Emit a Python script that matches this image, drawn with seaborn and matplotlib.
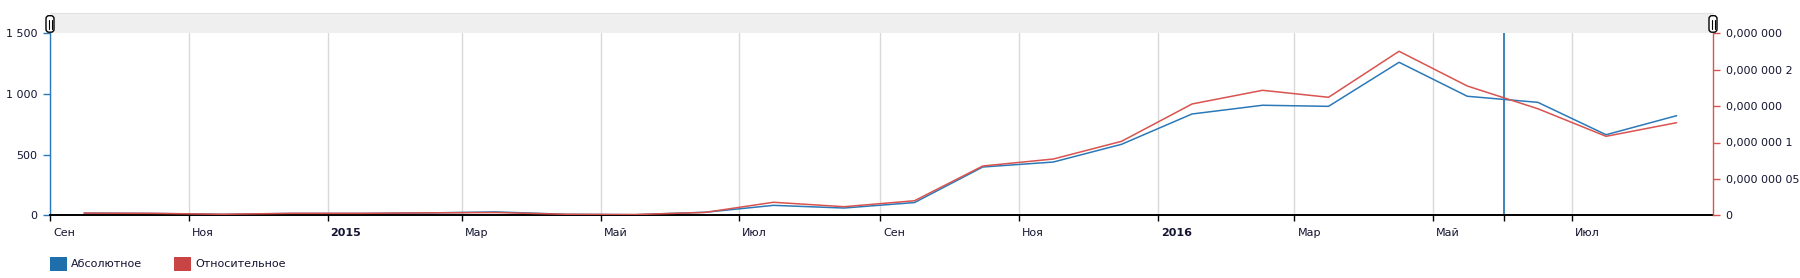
import matplotlib
matplotlib.use("Agg")
import matplotlib.pyplot as plt
import matplotlib.dates as mdates
import matplotlib.transforms as mtransforms
from matplotlib.patches import Rectangle, FancyBboxPatch, Patch
from matplotlib.lines import Line2D
import seaborn as sns
import pandas as pd

# ---- data ----
months = ["2014-09", "2014-10", "2014-11", "2014-12", "2015-01", "2015-02",
          "2015-03", "2015-04", "2015-05", "2015-06", "2015-07", "2015-08",
          "2015-09", "2015-10", "2015-11", "2015-12", "2016-01", "2016-02",
          "2016-03", "2016-04", "2016-05", "2016-06", "2016-07", "2016-08"]
absolute = [18, 15, 8, 15, 15, 20, 28, 8, 5, 25, 82, 60,
            105, 398, 439, 585, 835, 907, 898, 1261, 981, 931, 664, 821]
relative = [3.0e-9, 2.7e-9, 1.4e-9, 2.7e-9, 2.7e-9, 3.4e-9, 3.8e-9, 1.4e-9,
            1.0e-9, 4.0e-9, 1.79e-8, 1.18e-8, 2.0e-8, 6.77e-8, 7.73e-8,
            1.016e-7, 1.529e-7, 1.717e-7, 1.621e-7, 2.253e-7, 1.776e-7,
            1.464e-7, 1.085e-7, 1.272e-7]
x_tick_dates = ["2014-09-01", "2014-11-01", "2015-01-01", "2015-03-01",
                "2015-05-01", "2015-07-01", "2015-09-01", "2015-11-01",
                "2016-01-01", "2016-03-01", "2016-05-01", "2016-07-01"]
x_tick_labels = ["Сен", "Ноя", "2015", "Мар", "Май", "Июл",
                 "Сен", "Ноя", "2016", "Мар", "Май", "Июл"]
bold_labels = ["2015", "2016"]
left_ticks = [0, 500, 1000, 1500]
left_labels = ["0", "500", "1 000", "1 500"]
right_ticks = [0, 5e-8, 1e-7, 1.5e-7, 2e-7, 2.5e-7]
right_labels = ["0", "0,000 000 05", "0,000 000 1", "0,000 000",
                "0,000 000 2", "0,000 000"]
cursor_date = "2016-06-01"
legend_labels = ["Абсолютное", "Относительное"]

df = pd.DataFrame({
    "date": pd.to_datetime(months) + pd.Timedelta(days=15),
    "abs": absolute,
    "rel": relative,
})

BLUE = "#2b79b8"
BLUE_DARK = "#1f6fad"
RED = "#d9534f"
RED_DARK = "#c94444"
TXT = "#141432"

sns.set_theme(style="white")
plt.rcParams["font.family"] = ["DejaVu Sans"]
plt.rcParams["font.size"] = 8

W, H = 1800, 278
fig = plt.figure(figsize=(W / 100, H / 100), dpi=100)
L, R, T, B = 50, 1713, 33.3, 215.3
ax = fig.add_axes([L / W, 1 - B / H, (R - L) / W, (B - T) / H])
ax2 = ax.twinx()

sns.lineplot(data=df, x="date", y="abs", ax=ax, color=BLUE, lw=1.1, legend=False)
sns.lineplot(data=df, x="date", y="rel", ax=ax2, color=RED, lw=1.1, legend=False)

ax.set_xlim(pd.Timestamp("2014-09-01"), pd.Timestamp("2016-09-01"))
ax.set_ylim(0, 1500)
ax2.set_ylim(0, 2.5e-7)
ax.set_xlabel("")
ax.set_ylabel("")
ax2.set_ylabel("")

ax.set_xticks(pd.to_datetime(x_tick_dates))
ax.set_xticklabels(x_tick_labels)
ax.set_xticks([pd.Timestamp(cursor_date)], minor=True)
ax.set_yticks(left_ticks)
ax.set_yticklabels(left_labels)
ax2.set_yticks(right_ticks)
ax2.set_yticklabels(right_labels)

ax.grid(axis="x", color="#d9d9d9", lw=1)
ax.grid(axis="y", visible=False)
ax2.grid(False)

ax.axvline(pd.Timestamp(cursor_date), color=BLUE_DARK, lw=1.2, zorder=1)

for s in ["top", "right"]:
    ax.spines[s].set_visible(False)
for s in ["top", "left", "bottom"]:
    ax2.spines[s].set_visible(False)
ax.spines["left"].set_color(BLUE)
ax.spines["left"].set_linewidth(1)
ax.spines["bottom"].set_color("black")
ax.spines["bottom"].set_linewidth(1.4)
ax2.spines["right"].set_color(RED)
ax2.spines["right"].set_linewidth(1)

ax.tick_params(axis="x", which="both", bottom=True, length=4, width=1,
               color="black", pad=5, labelsize=8, labelcolor=TXT)
ax.tick_params(axis="y", left=True, length=5, width=1, color=BLUE,
               pad=4, labelsize=8, labelcolor=TXT)
ax2.tick_params(axis="y", right=True, length=5, width=1, color=RED,
                pad=4, labelsize=8, labelcolor=TXT)

offset = mtransforms.ScaledTranslation(3 / 100, 0, fig.dpi_scale_trans)
for lab in ax.get_xticklabels():
    lab.set_horizontalalignment("left")
    lab.set_transform(lab.get_transform() + offset)
    if lab.get_text() in bold_labels:
        lab.set_fontweight("bold")

# scrollbar band with handles
fig.add_artist(Rectangle((L / W, 1 - T / H), (R - L) / W, 20 / H,
                         transform=fig.transFigure, fc="#efefef", ec="none"))
fig.add_artist(Line2D([L / W, R / W], [1 - 13.3 / H] * 2,
                      transform=fig.transFigure, color="#e2e2e2", lw=0.8))
ident = mtransforms.IdentityTransform()
for cx in (L, R):
    fig.add_artist(FancyBboxPatch((cx - 4, H - 32.2), 8, 16.5,
                                  boxstyle="round,pad=0,rounding_size=3",
                                  transform=ident, fc="white", ec="black", lw=1))
    for dx in (-1.5, 1.5):
        fig.add_artist(Line2D([cx + dx, cx + dx], [H - 28.5, H - 19.5],
                              transform=ident, color="black", lw=0.8))

# legend
handles = [Patch(fc=BLUE_DARK, ec="none"), Patch(fc=RED_DARK, ec="none")]
fig.legend(handles, legend_labels, loc="upper left",
           bbox_to_anchor=(L / W, 1 - 256.5 / H), ncol=2, frameon=False,
           borderpad=0, borderaxespad=0, handlelength=1.5, handleheight=1.6,
           handletextpad=0.4, columnspacing=2.9, fontsize=8,
           labelcolor=TXT)

fig.savefig("out.png", dpi=100)
